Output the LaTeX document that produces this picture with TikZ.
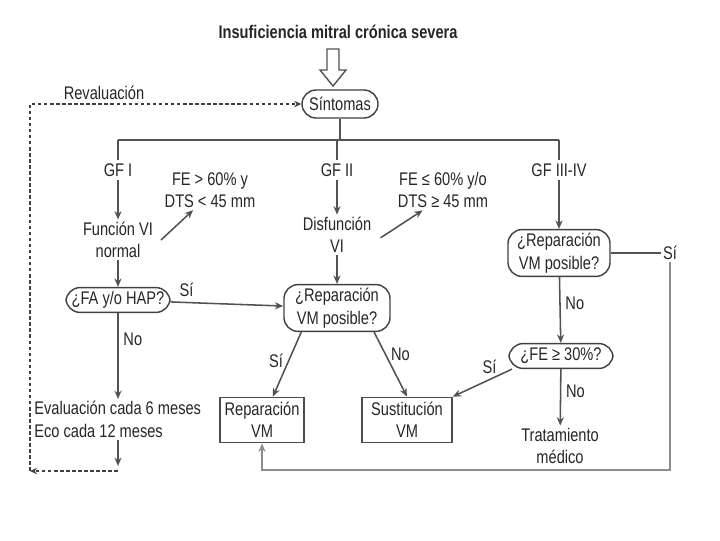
\documentclass[tikz,border=0pt]{standalone}
\usepackage{fontspec}
\setmainfont{Liberation Sans}[FakeStretch=0.8]
\usetikzlibrary{positioning,arrows.meta}

\begin{document}
\begin{tikzpicture}[x=0.025cm, y=-0.025cm,
   font=\fontsize{13}{16}\selectfont, text=black!85,
   caja/.style={draw=black!75, rounded corners=10pt, line width=1pt, align=center, inner sep=2.5pt, minimum height=0.62cm},
   recuadro/.style={draw=black!70, rectangle, line width=1pt, align=center, minimum width=2.05cm, minimum height=1.1cm},
   texto/.style={align=center, inner sep=1.5pt},
   etiqueta/.style={fill=white, inner sep=2pt},
   linea/.style={draw=black!68, line width=1.1pt},
   flecha/.style={linea, -{Stealth[length=6pt, width=5pt]}},
   discontinua/.style={draw=black!75, line width=0.9pt, dashed, dash pattern=on 2.5pt off 1.8pt, -{Stealth[length=5pt, width=4.5pt]}}
]
\useasboundingbox (0,0) rectangle (720,540);

% Nodes
\node [texto, font=\fontsize{13}{15}\selectfont\bfseries] (titulo) at (338,32) {Insuficiencia mitral crónica severa};
\node [caja, minimum width=1.9cm, minimum height=0.7cm] (sintomas) at (340,104) {Síntomas};
\node [texto] (reval) at (104,93) {Revaluación};

\node [etiqueta] (gf1) at (118,170) {GF I};
\node [etiqueta] (gf2) at (337,170) {GF II};
\node [etiqueta] (gf3) at (559,170) {GF III-IV};

\node [texto] (funcion) at (118,240) {Función VI\\normal};
\node [texto] (fe1) at (210,190) {FE > 60\% y\\DTS < 45 mm};
\node [texto] (disf) at (337,235) {Disfunción\\VI};
\node [texto] (fe2) at (443,190) {FE ≤ 60\% y/o\\DTS ≥ 45 mm};

\node [caja, minimum width=2.6cm] (fa) at (118,300) {¿FA y/o HAP?};
\node [caja, minimum width=2.65cm] (rep1) at (337,308) {¿Reparación\\VM posible?};
\node [caja, minimum width=2.55cm] (rep2) at (559,253) {¿Reparación\\VM posible?};
\node [texto] (si2) at (670,253) {Sí};
\node [caja, minimum width=2.6cm] (fe30) at (561,356) {¿FE ≥ 30\%?};

\node [texto, align=left, anchor=north west] (eval) at (32,399) {Evaluación cada 6 meses\\Eco cada 12 meses};
\node [recuadro] (repvm) at (262,420) {Reparación\\VM};
\node [recuadro, minimum width=2.25cm] (sust) at (407,420) {Sustitución\\VM};
\node [texto] (trat) at (560,446) {Tratamiento\\médico};

\coordinate (bus) at (340,140);
\coordinate (busL) at (118,140);
\coordinate (busR) at (559,140);
\coordinate (evalfin) at (118,466);
\coordinate (retB) at (118,471);
\coordinate (retC) at (30,471);
\coordinate (esq) at (670,470);

% Hollow arrow
\draw [linea, line width=1pt] (327,49) -- (339,49) -- (339,70) -- (346,70) -- (333,86) -- (320,70) -- (327,70) -- cycle;

% Connections
\draw [linea] (sintomas) -- (bus);
\draw [linea] (busL) -- (busR);
\draw [flecha] (busL) -- (gf1) -- (funcion);
\draw [flecha] (bus -| gf2) -- (gf2) -- (disf);
\draw [flecha] (busR) -- (gf3) -- (rep2);
\draw [flecha] ([xshift=4pt]funcion.east) -- (fe1.230);
\draw [flecha] ([xshift=5pt, yshift=-2pt]disf.east) -- (fe2.225);
\draw [flecha] (funcion) -- (fa);
\draw [flecha] (disf) -- (rep1);
\draw [flecha] (fa) -- node [above, pos=0.14] {Sí} (rep1);
\draw [flecha] (fa) -- node [right, pos=0.3] {No} (fa |- eval.north);
\draw [flecha] (evalfin |- eval.south) -- (evalfin);
\draw [flecha] (rep1.214) -- node [left, pos=0.45] {Sí} (repvm.65);
\draw [flecha] (rep1.327) -- node [right, pos=0.35] {No} (sust.north);
\draw [linea] (rep2) -- (si2);
\draw [flecha, draw=black!45] (si2) -- (esq) -| (repvm);
\draw [flecha] (rep2) -- node [right, pos=0.4] {No} (fe30);
\draw [flecha] (fe30.195) -- node [above, pos=0.38] {Sí} (sust.north east);
\draw [flecha] (fe30) -- node [right, pos=0.4] {No} (trat);
\draw [discontinua] (retB) -- (retC);
\draw [discontinua] (retC) |- (sintomas);

\end{tikzpicture}
\end{document}
